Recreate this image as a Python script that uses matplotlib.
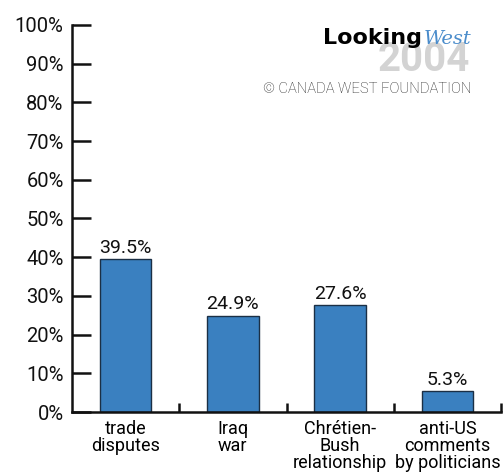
import matplotlib
matplotlib.use("Agg")
import matplotlib.pyplot as plt
import numpy as np

categories = ["trade\ndisputes", "Iraq\nwar", "Chrétien-\nBush\nrelationship", "anti-US\ncomments\nby politicians"]
values = [39.5, 24.9, 27.6, 5.3]
value_labels = ["39.5%", "24.9%", "27.6%", "5.3%"]
yticks = [0, 10, 20, 30, 40, 50, 60, 70, 80, 90, 100]
ytick_labels = ["0%", "10%", "20%", "30%", "40%", "50%", "60%", "70%", "80%", "90%", "100%"]

plt.rcParams['font.family'] = ['Roboto', 'DejaVu Sans']

W, H = 503, 473
fig = plt.figure(figsize=(W / 100, H / 100), dpi=100)
ax = fig.add_axes([72 / W, 1 - 412 / H, (501 - 72) / W, (412 - 25) / H])

x = np.arange(len(values))
ax.bar(x, values, width=0.48, color="#3A80C0", edgecolor="#1B2F45", linewidth=1.0, zorder=2)
for xi, v, lab in zip(x, values, value_labels):
    ax.text(xi, v + 0.6, lab, ha="center", va="bottom", fontsize=14, color="#111111")

ax.set_xlim(-0.5, len(values) - 0.5)
ax.set_ylim(0, 100)
ax.set_yticks(yticks)
ax.set_yticklabels(ytick_labels, fontsize=14.5)
ax.set_xticks(x)
ax.set_xticklabels(categories, fontsize=13, linespacing=0.9, va="top")
ax.set_xticks(np.arange(len(values)) + 0.5, minor=True)

ax.tick_params(axis="y", direction="in", length=13.5, width=1.8, pad=6, colors="#111111")
ax.tick_params(axis="x", which="major", length=0, pad=6)
ax.tick_params(axis="x", which="minor", direction="in", length=6.5, width=1.8, color="#111111")

for s in ["top", "right"]:
    ax.spines[s].set_visible(False)
for s in ["left", "bottom"]:
    ax.spines[s].set_linewidth(1.8)
    ax.spines[s].set_color("#111111")
ax.spines["left"].set_bounds(0, 100)

def px(xp, yp):
    return xp / W, 1 - yp / H

# Logo
fig.text(*px(470, 60), "2004", fontsize=29, fontweight="bold", color="#D3D3D3",
         ha="right", va="center", zorder=1)
fig.text(*px(422, 44), "Looking", fontsize=16, fontweight="heavy", color="#000000",
         ha="right", va="baseline", family=["DejaVu Sans"], zorder=3)
fig.text(*px(424, 44), "West", fontsize=14, style="italic", color="#4A8CCB",
         ha="left", va="baseline", family=["DejaVu Serif"], zorder=3)
fig.text(*px(471, 89), "© CANADA WEST FOUNDATION", fontsize=10.6, color="#222222",
         ha="right", va="center", fontweight="light")

fig.savefig("out.png", dpi=100)
